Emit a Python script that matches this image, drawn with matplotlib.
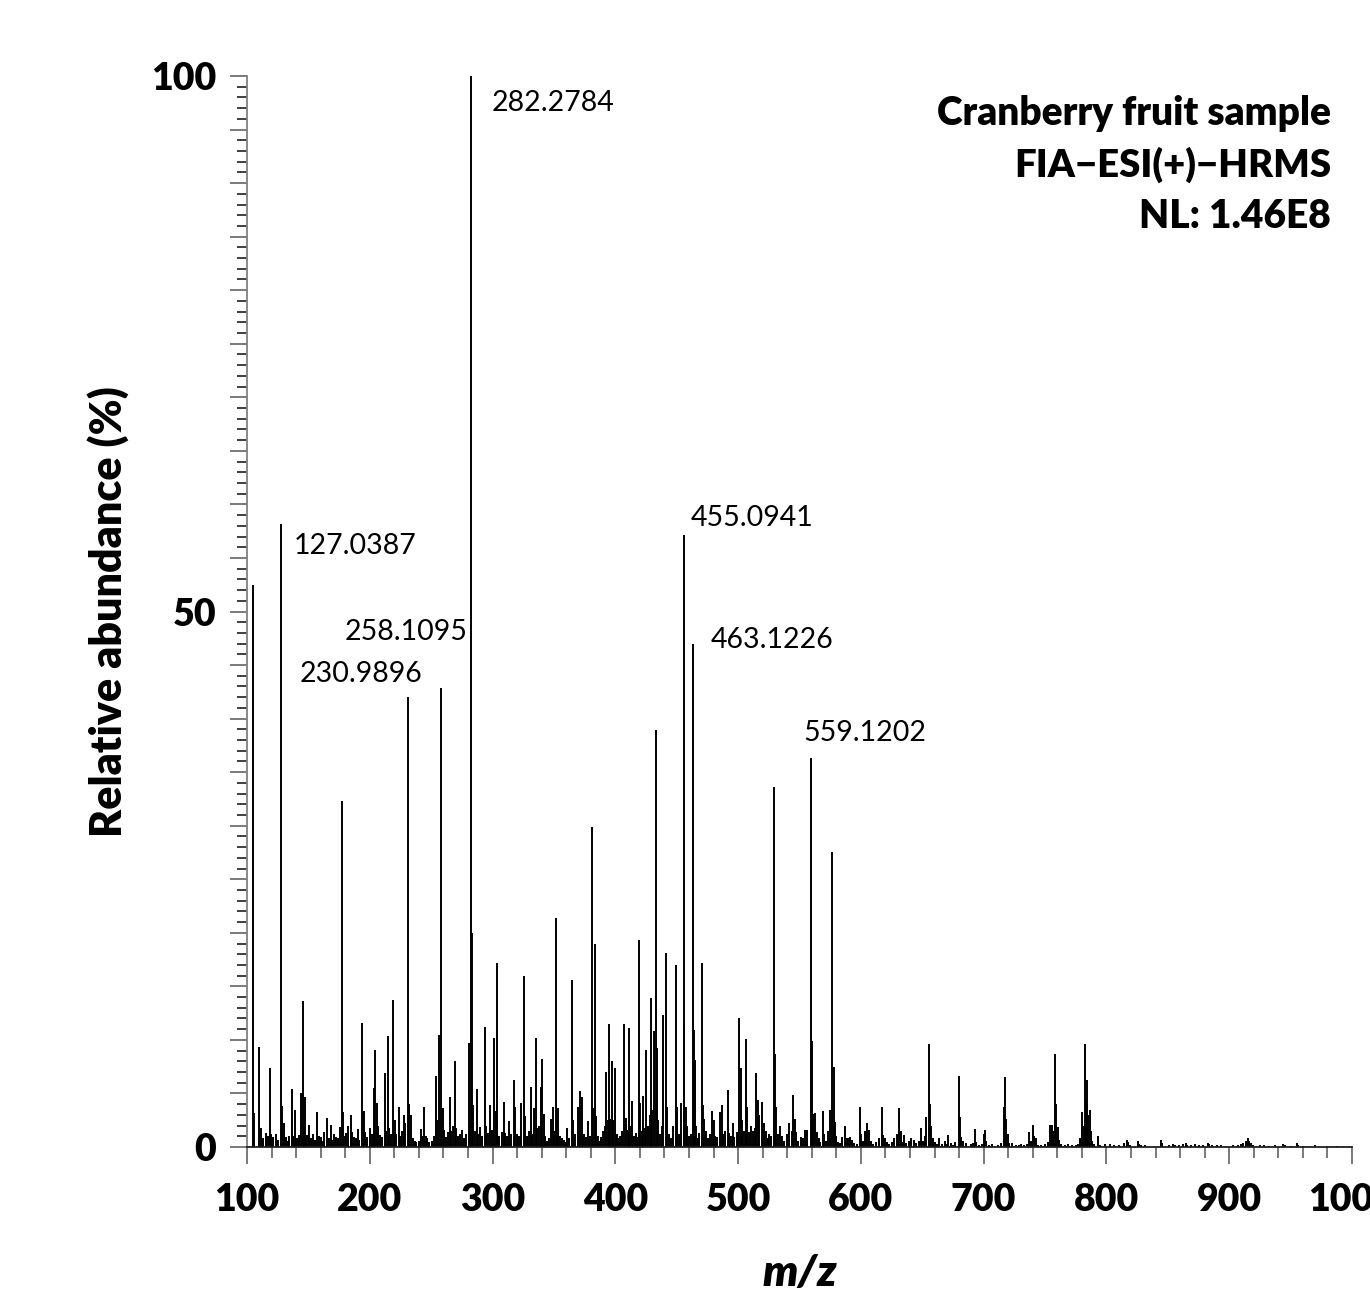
import matplotlib
matplotlib.use('Agg')
import matplotlib.pyplot as plt
from matplotlib.ticker import MultipleLocator, FuncFormatter

plt.rcParams['font.family'] = ['Lato', 'DejaVu Sans']

# peaks, m/z and relative abundance (%)
mz_a = [104.6, 105.5, 109.5, 111.4, 113.0, 115.5, 117.0, 118.5, 119.5, 121.0, 123.3, 125.0,
        127.5, 128.3, 130.0, 131.5, 133.0, 134.5, 136.4, 137.5, 139.4, 141.0, 142.5, 144.0,
        145.3, 146.4, 147.5, 149.0, 150.6, 152.0, 153.5, 155.0, 157.3, 158.3, 160.0, 161.5,
        163.0, 165.4, 166.5, 168.1, 169.5, 171.0, 172.5, 174.0, 175.5, 177.4, 178.4, 179.5,
        181.0, 182.4, 184.4, 185.5, 187.0, 188.5, 190.0, 191.5, 193.4, 195.4, 196.5, 198.0,
        199.9, 201.5, 203.7, 204.3, 206.2, 207.0, 208.5, 210.0, 212.1, 213.0, 215.1, 216.0,
        217.5]
ab_a = [52.5, 3.2, 9.3, 1.8, 0.8, 1.3, 1.0, 7.4, 1.2, 0.9, 1.2, 0.7,
        58.2, 3.8, 2.2, 0.9, 0.6, 1.0, 5.4, 1.0, 3.5, 0.8, 1.1, 5.0,
        13.6, 2.0, 4.7, 1.1, 2.1, 0.8, 1.2, 0.7, 3.3, 1.0, 0.9, 0.6,
        1.4, 2.7, 0.8, 2.1, 0.7, 1.2, 0.9, 0.8, 1.9, 32.3, 3.3, 1.0,
        1.3, 2.0, 3.0, 1.4, 0.9, 0.8, 1.7, 0.7, 11.6, 3.4, 1.4, 0.9,
        1.8, 1.2, 5.5, 9.1, 4.1, 2.0, 1.1, 0.9, 6.9, 1.5, 10.4, 1.8,
        1.2]

mz_b = [219.2, 220.4, 221.5, 223.4, 225.0, 226.5, 228.2, 229.0, 231.4, 232.3, 233.3, 235.0,
        236.5, 238.0, 240.0, 241.7, 243.0, 244.2, 245.5, 247.0, 248.5, 250.5, 252.0, 253.9,
        255.0, 256.6, 258.3, 259.4, 260.5, 262.0, 263.5, 265.3, 266.5, 268.0, 269.4, 270.3,
        272.0, 273.5, 275.3, 277.0, 278.5, 280.6, 281.5, 282.8, 283.5, 284.4, 285.5, 287.3,
        288.5, 290.0, 291.5, 293.6, 294.5, 296.0, 298.2, 299.5, 301.2, 302.4, 303.4, 304.0,
        305.5, 307.5, 309.1, 310.5, 312.0, 313.6, 315.0, 317.2, 318.6, 320.0, 321.5, 323.5,
        325.3, 326.6, 328.0]
ab_b = [13.7, 2.5, 1.2, 3.7, 1.0, 1.5, 3.0, 2.2, 42.0, 4.0, 3.0, 0.8,
        0.6, 0.5, 0.6, 1.7, 1.0, 3.7, 1.0, 0.8, 0.5, 0.6, 1.0, 6.6,
        2.5, 10.5, 42.9, 3.6, 1.6, 0.9, 1.4, 4.7, 1.5, 2.0, 8.0, 1.8,
        1.0, 1.2, 1.6, 0.8, 1.2, 9.7, 2.0, 100.0, 20.0, 3.9, 1.5, 5.4,
        1.2, 1.9, 1.0, 11.2, 2.0, 1.3, 3.9, 1.6, 10.2, 3.4, 17.2, 2.7,
        1.0, 1.4, 4.2, 1.3, 1.0, 2.4, 1.2, 6.3, 3.7, 1.2, 1.0, 4.1,
        16.0, 2.9, 1.0]

mz_c = [329.5, 331.1, 332.5, 334.0, 335.1, 336.5, 338.0, 339.2, 340.5, 341.5, 343.0, 344.5,
        346.0, 347.3, 349.0, 350.0, 351.4, 352.3, 353.3, 355.0, 356.5, 358.0, 359.5, 361.0,
        362.5, 364.9, 365.8, 367.5, 369.3, 371.2, 373.0, 374.5, 376.0, 377.4, 379.0, 380.7,
        381.8, 383.1, 384.0, 385.5, 387.0, 388.5, 390.0, 391.5, 392.7, 394.0, 395.1, 396.0,
        397.5, 398.5, 399.5, 401.0, 402.5, 404.0, 405.5, 407.3, 408.5, 410.0, 411.1, 412.0,
        413.2, 415.0, 416.5, 418.0, 419.3, 420.1, 421.5, 422.8, 424.0, 425.2, 426.5, 428.0,
        429.0, 430.0, 431.2, 432.8, 433.9, 435.0, 436.5, 438.0, 439.0, 441.0, 442.0, 443.5,
        445.0]
ab_c = [1.5, 5.6, 1.2, 3.6, 10.2, 1.8, 2.0, 5.6, 8.2, 3.1, 1.0, 0.6,
        0.8, 2.6, 3.7, 1.5, 21.4, 2.5, 3.6, 1.0, 0.8, 0.7, 0.5, 1.8,
        0.8, 15.6, 2.5, 1.2, 3.7, 5.2, 4.7, 1.2, 0.9, 2.4, 1.0, 29.9,
        3.6, 19.0, 2.9, 1.0, 0.6, 0.9, 1.5, 2.0, 7.0, 2.5, 11.5, 2.6,
        8.0, 2.5, 7.4, 1.2, 0.8, 1.0, 1.5, 11.5, 2.7, 1.6, 11.1, 2.0,
        4.3, 1.0, 1.3, 0.9, 19.3, 4.1, 1.5, 4.8, 1.8, 9.1, 2.0, 3.0,
        13.9, 3.5, 10.8, 38.9, 9.2, 2.5, 1.2, 2.0, 12.3, 18.1, 3.7, 1.2,
        0.8]

mz_d = [447.2, 449.1, 450.0, 451.5, 453.5, 455.6, 456.3, 457.2, 458.5, 460.0, 461.5, 463.0,
        463.8, 464.6, 465.5, 467.0, 468.5, 470.8, 471.6, 472.5, 474.0, 475.5, 477.0, 479.0,
        480.0, 481.5, 483.0, 485.2, 486.5, 488.0, 489.5, 491.5, 492.5, 494.0, 495.5, 497.0,
        499.0, 501.0, 502.3, 503.5, 505.0, 506.4, 507.5, 509.0, 510.5, 512.0, 513.5, 514.8,
        515.8, 517.0, 519.7, 520.8, 522.5, 524.0, 525.5, 527.0, 529.0, 530.0, 531.0, 532.5,
        534.0, 536.0, 537.5, 539.5, 541.5, 543.5, 545.0, 546.0, 547.5, 549.0, 551.0, 553.0,
        554.5, 555.8, 556.5]
ab_d = [2.0, 17.0, 3.7, 1.2, 4.1, 57.1, 11.5, 3.7, 2.0, 1.0, 1.2, 47.0,
        10.9, 8.1, 2.0, 0.8, 1.3, 17.2, 3.9, 2.6, 1.5, 0.8, 1.2, 3.4,
        2.5, 1.0, 0.9, 3.3, 3.9, 1.2, 1.5, 5.3, 1.3, 1.0, 2.2, 0.9,
        1.4, 12.0, 7.4, 2.5, 1.5, 10.1, 3.7, 1.4, 2.0, 1.5, 1.8, 6.9,
        4.4, 3.0, 4.2, 2.2, 1.5, 0.8, 1.2, 1.0, 33.6, 8.7, 3.7, 1.2,
        2.0, 1.0, 0.6, 1.2, 2.2, 1.5, 4.9, 2.6, 1.4, 0.6, 0.9, 0.8,
        1.6, 1.6, 1.6]

mz_e = [559.4, 560.2, 561.2, 562.9, 564.0, 565.5, 567.0, 568.9, 570.0, 571.5, 573.5, 575.1,
        576.7, 577.8, 578.8, 580.0, 581.5, 583.0, 585.0, 586.8, 588.0, 589.5, 591.0, 592.5,
        594.5, 596.5, 599.0, 600.0, 601.5, 603.5, 605.2, 606.5, 608.0, 610.0, 612.0, 614.5,
        616.9, 618.0, 619.5, 621.0, 623.0, 625.0, 627.0, 629.5, 631.3, 632.5, 634.0, 635.5,
        637.0, 639.0, 641.0, 643.0, 645.0, 647.0, 649.2, 650.5, 652.0, 653.3, 655.2, 656.0,
        657.0, 658.5, 660.5, 662.0, 664.0]
ab_e = [36.3, 9.9, 3.1, 3.2, 1.4, 0.8, 0.5, 3.4, 1.2, 0.6, 1.5, 3.5,
        27.5, 7.5, 2.3, 1.0, 0.5, 0.4, 0.9, 2.0, 0.8, 0.8, 0.9, 0.7,
        0.4, 0.3, 3.7, 1.2, 0.6, 1.5, 2.2, 1.6, 0.6, 0.3, 0.5, 0.8,
        3.7, 1.1, 0.8, 0.5, 0.3, 0.5, 0.8, 1.2, 3.6, 1.5, 0.5, 1.1,
        0.4, 0.6, 0.8, 0.7, 0.4, 0.6, 1.8, 0.6, 1.0, 2.8, 9.6, 4.0,
        2.0, 0.8, 0.5, 0.3, 0.8]

mz_f = [666.0, 668.5, 670.0, 671.2, 673.0, 675.0, 677.0, 679.6, 680.4, 681.5, 683.0, 686.0,
        689.5, 691.5, 693.2, 694.0, 696.0, 698.5, 700.5, 701.0, 702.0, 704.0, 707.0, 712.0,
        714.5, 716.3, 717.4, 718.0, 719.5, 721.0, 723.0, 726.0, 728.5, 730.0, 733.0, 735.0,
        737.2, 738.5, 740.2, 741.0, 742.5, 744.0, 747.0, 750.0, 752.0, 754.1, 755.5, 756.5,
        758.1, 759.2, 760.2, 761.5, 763.0, 766.0, 769.0, 772.0, 775.0, 777.0, 778.5, 780.4,
        781.5, 782.2, 783.0, 783.8, 784.4, 785.3, 786.3, 787.2, 788.5, 790.0, 793.1, 795.0]
ab_f = [0.3, 0.6, 0.3, 1.1, 0.4, 0.2, 0.5, 6.6, 2.8, 0.9, 0.6, 0.4,
        0.3, 0.4, 1.7, 0.5, 0.2, 0.3, 1.2, 1.6, 0.6, 0.2, 0.3, 0.2,
        0.4, 3.7, 6.5, 2.6, 1.2, 0.4, 0.4, 0.2, 0.2, 0.3, 0.2, 0.3,
        1.4, 0.6, 2.1, 1.0, 0.8, 0.2, 0.2, 0.3, 0.5, 2.1, 2.1, 1.5,
        8.7, 4.0, 1.9, 0.7, 0.3, 0.2, 0.3, 0.2, 0.2, 0.3, 0.8, 3.3,
        2.0, 9.6, 4.4, 4.0, 6.3, 3.0, 3.5, 1.5, 0.6, 0.3, 1.0, 0.2]

mz_g = [798.5, 803.0, 806.0, 810.0, 814.0, 816.4, 817.5, 819.0, 825.4, 826.5, 828.0, 831.0,
        844.4, 845.2, 851.0, 854.4, 856.0, 859.0, 862.5, 864.8, 866.0, 868.5, 872.0, 875.5,
        879.0, 882.4, 883.5, 886.0, 890.0, 893.0, 897.0, 903.0, 907.0, 909.5, 911.5, 913.4,
        915.0, 916.0, 917.5, 919.0, 925.0, 928.0, 932.0, 937.0, 943.5, 945.5, 950.0, 954.9,
        956.0, 960.0, 970.0, 980.0, 988.0]
ab_g = [0.3, 0.3, 0.2, 0.2, 0.4, 0.7, 0.5, 0.2, 0.6, 0.3, 0.2, 0.2,
        0.7, 0.4, 0.2, 0.3, 0.2, 0.2, 0.3, 0.4, 0.2, 0.2, 0.3, 0.2,
        0.2, 0.4, 0.3, 0.2, 0.2, 0.2, 0.1, 0.2, 0.2, 0.3, 0.4, 0.6,
        0.8, 0.6, 0.4, 0.2, 0.2, 0.2, 0.1, 0.2, 0.3, 0.2, 0.1, 0.4,
        0.2, 0.1, 0.2, 0.1, 0.1]

# annotated peaks
label_mz = [127.0387, 230.9896, 258.1095, 282.2784, 455.0941, 463.1226, 559.1202]
label_text = ['127.0387', '230.9896', '258.1095', '282.2784', '455.0941', '463.1226', '559.1202']

mz = mz_a + mz_b + mz_c + mz_d + mz_e + mz_f + mz_g
ab = ab_a + ab_b + ab_c + ab_d + ab_e + ab_f + ab_g
assert len(mz) == len(ab)

fig = plt.figure(figsize=(13.7, 13.06), dpi=100)
ax = fig.add_axes([247 / 1370, 1 - 1147 / 1306, 1105 / 1370, 1071 / 1306])

ax.vlines(mz, 0, ab, color='black', lw=1.4)

ax.set_xlim(100, 1000)
ax.set_ylim(0, 100)

for s in ['top', 'right']:
    ax.spines[s].set_visible(False)
ax.spines['left'].set_color('#808080')
ax.spines['bottom'].set_color('#202020')
ax.spines['left'].set_linewidth(1.3)
ax.spines['bottom'].set_linewidth(1.3)

ax.xaxis.set_major_locator(MultipleLocator(100))
ax.xaxis.set_minor_locator(MultipleLocator(20))
ax.yaxis.set_major_locator(MultipleLocator(5))
ax.yaxis.set_minor_locator(MultipleLocator(1))
ax.yaxis.set_major_formatter(FuncFormatter(lambda v, p: '%d' % v if int(round(v)) in (0, 50, 100) else ''))

ax.tick_params(axis='x', which='major', length=12, width=1.3, color='#707070', pad=14,
               labelsize=27)
ax.tick_params(axis='x', which='minor', length=8, width=1.3, color='#707070')
ax.tick_params(axis='y', which='major', length=12, width=1.3, color='#707070', pad=10,
               labelsize=27)
ax.tick_params(axis='y', which='minor', length=7, width=1.3, color='#303030')
for lab in ax.get_xticklabels() + ax.get_yticklabels():
    lab.set_fontweight('heavy')

ax.set_xlabel('m/z', fontsize=32, fontweight='heavy', style='italic', labelpad=26)
ax.set_ylabel('Relative abundance (%)', fontsize=31, fontweight='heavy', labelpad=16)

# peak labels (text anchor positions in data units)
label_pos = [(138.3, 56.1), (143.2, 44.2), (179.8, 48.1), (299.5, 97.5),
             (461.6, 58.7), (477.9, 47.3), (552.8, 38.7)]
for t, (x, y) in zip(label_text, label_pos):
    ax.text(x, y, t, fontsize=20.5, ha='left', va='center')

fig.text(1331 / 1370, 1 - 113 / 1306, 'Cranberry fruit sample', ha='right', va='center',
         fontsize=28, fontweight='heavy')
fig.text(1331 / 1370, 1 - 165 / 1306, 'FIA\u2212ESI(+)\u2212HRMS', ha='right', va='center',
         fontsize=27.5, fontweight='heavy')
fig.text(1331 / 1370, 1 - 217 / 1306, 'NL: 1.46E8', ha='right', va='center',
         fontsize=28, fontweight='heavy')

fig.savefig('out.png', dpi=100)
